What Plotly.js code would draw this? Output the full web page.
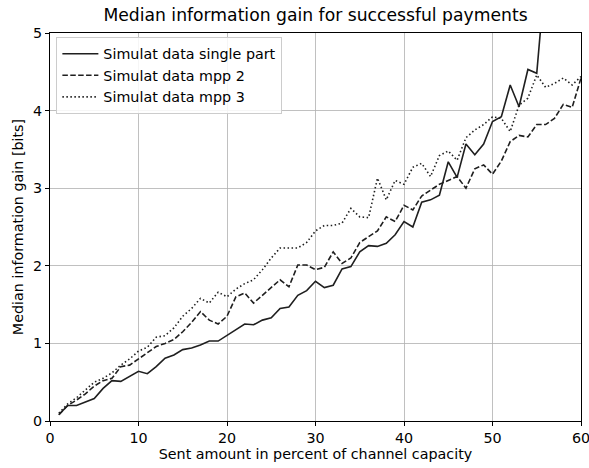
<!DOCTYPE html>
<html>
<head>
<meta charset="utf-8">
<script src="https://cdn.plot.ly/plotly-3.0.1.min.js"></script>
<style>html,body{margin:0;padding:0;background:#fff;}#chart{width:589px;height:468px;}</style>
</head>
<body>
<div id="chart"></div>
<script>
const xValues = Array.from({length: 60}, (_, i) => i + 1);

const singlePart = [0.08,0.2,0.2,0.25,0.29,0.42,0.52,0.51,0.57,0.64,
  0.61,0.7,0.81,0.85,0.92,0.94,0.98,1.03,1.03,1.1,
  1.17,1.25,1.24,1.3,1.33,1.45,1.47,1.62,1.68,1.8,
  1.72,1.75,1.96,1.99,2.18,2.26,2.25,2.29,2.4,2.57,
  2.5,2.82,2.85,2.91,3.34,3.14,3.57,3.43,3.57,3.86,
  3.92,4.33,4.05,4.53,4.48,5.8,6.2,6.6,7.0,7.5];

const mpp2 = [0.08,0.2,0.27,0.35,0.45,0.52,0.55,0.7,0.72,0.8,
  0.87,0.96,1.0,1.05,1.15,1.27,1.41,1.3,1.25,1.35,
  1.6,1.65,1.52,1.62,1.72,1.82,1.73,2.01,2.01,1.95,
  1.98,2.18,2.03,2.1,2.3,2.38,2.45,2.63,2.57,2.78,
  2.72,2.9,2.97,3.05,3.1,3.15,3.0,3.25,3.3,3.18,
  3.35,3.6,3.68,3.66,3.82,3.82,3.9,4.08,4.04,4.42];

const mpp3 = [0.1,0.22,0.3,0.4,0.5,0.55,0.62,0.72,0.8,0.9,
  0.95,1.08,1.1,1.2,1.35,1.45,1.58,1.52,1.66,1.6,
  1.7,1.77,1.82,1.95,2.1,2.23,2.23,2.23,2.3,2.45,
  2.52,2.52,2.55,2.74,2.63,2.62,3.13,2.85,3.1,3.05,
  3.27,3.32,3.15,3.42,3.48,3.36,3.65,3.75,3.82,3.92,
  3.9,3.73,4.07,4.16,4.46,4.3,4.35,4.42,4.33,4.44];

const seriesNames = ['Simulat data single part', 'Simulat data mpp 2', 'Simulat data mpp 3'];
const xTicks = [0, 10, 20, 30, 40, 50, 60];
const yTicks = [0, 1, 2, 3, 4, 5];

const lineColor = '#1f1f1f';
const dashes = ['solid', '5.5px,2.4px', '1.5px,2.5px'];
const allY = [singlePart, mpp2, mpp3];

const traces = allY.map((ys, i) => ({
  x: xValues, y: ys, type: 'scatter', mode: 'lines', name: seriesNames[i],
  line: {color: lineColor, width: 1.6, dash: dashes[i]}
}));

const font = {family: 'DejaVu Sans, sans-serif', color: '#000'};
const fs = 14.3;

const layout = {
  width: 589, height: 468,
  margin: {l: 50, r: 8, t: 33, b: 47},
  paper_bgcolor: '#fff', plot_bgcolor: '#fff',
  font: Object.assign({size: fs}, font),
  title: {text: 'Median information gain for successful payments', xref: 'paper', x: 0.5, xanchor: 'center', y: 0.968, yanchor: 'middle', font: Object.assign({}, font, {size: 17.2})},
  showlegend: true,
  legend: {x: 0.012, y: 0.99, xanchor: 'left', yanchor: 'top', bgcolor: 'rgba(255,255,255,0.85)', bordercolor: '#cccccc', borderwidth: 1, font: Object.assign({}, font, {size: fs}), tracegroupgap: 0, itemwidth: 36},
  xaxis: {
    range: [0, 60], tickvals: xTicks, ticktext: xTicks.map(String),
    showgrid: true, gridcolor: '#b0b0b0', gridwidth: 0.8,
    zeroline: false, showline: true, linecolor: '#000', linewidth: 1, mirror: true,
    ticks: 'outside', ticklen: 4, tickcolor: '#000', tickwidth: 1,
    ticklabeloverflow: 'allow',
    tickfont: Object.assign({}, font, {size: fs}),
    title: {text: 'Sent amount in percent of channel capacity', font: Object.assign({}, font, {size: fs}), standoff: 3}
  },
  yaxis: {
    range: [0, 5], tickvals: yTicks, ticktext: yTicks.map(String),
    showgrid: true, gridcolor: '#b0b0b0', gridwidth: 0.8,
    zeroline: false, showline: true, linecolor: '#000', linewidth: 1, mirror: true,
    ticks: 'outside', ticklen: 4, tickcolor: '#000', tickwidth: 1,
    ticklabeloverflow: 'allow',
    tickfont: Object.assign({}, font, {size: fs}),
    title: {text: 'Median information gain [bits]', font: Object.assign({}, font, {size: fs}), standoff: 6}
  }
};

Plotly.newPlot('chart', traces, layout, {displayModeBar: false, staticPlot: true});
</script>
</body>
</html>
